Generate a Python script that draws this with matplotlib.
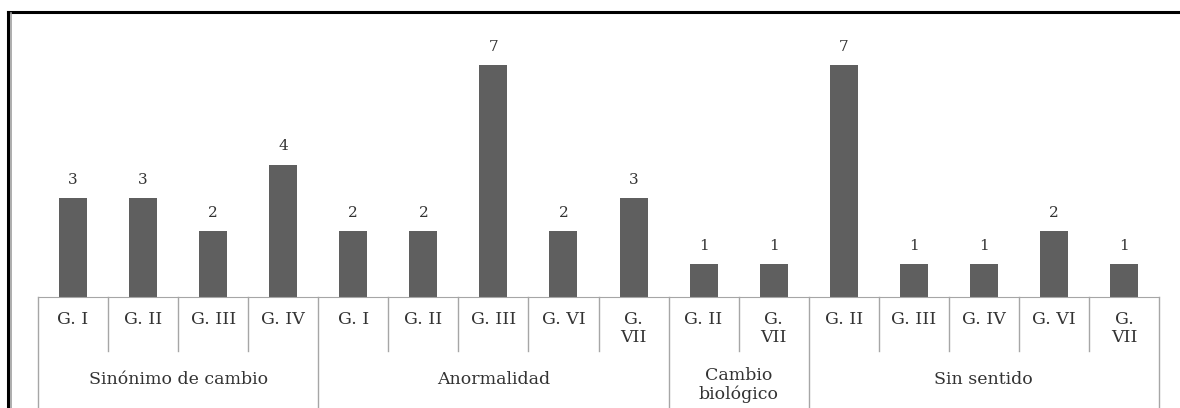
import matplotlib.pyplot as plt
from matplotlib.lines import Line2D
import matplotlib.transforms as mtransforms

plt.rcParams["font.family"] = ["DejaVu Serif"]

# --------------------DATA-------------------- #

groups = ["Sinónimo de cambio", "Anormalidad", "Cambio\nbiológico", "Sin sentido"]
groupSizes = [4, 5, 2, 5]
subLabels = ["G. I", "G. II", "G. III", "G. IV",
             "G. I", "G. II", "G. III", "G. VI", "G.\nVII",
             "G. II", "G.\nVII",
             "G. II", "G. III", "G. IV", "G. VI", "G.\nVII"]
values = [3, 3, 2, 4,
          2, 2, 7, 2, 3,
          1, 1,
          7, 1, 1, 2, 1]

# --------------------FIGURE-------------------- #

W, H = 1180, 408
axH = 265.0
fig = plt.figure(figsize=(W / 100, H / 100), dpi=100)
ax = fig.add_axes([38 / W, 1 - 297 / H, (1159 - 38) / W, axH / H])

n = len(values)
xs = list(range(n))
bars = ax.bar(xs, values, width=0.4, color="#5f5f5f")
ax.set_xlim(-0.5, n - 0.5)
ax.set_ylim(0, 8)

for x, v in zip(xs, values):
    ax.annotate(str(v), (x, v), xytext=(0, 8), textcoords="offset points",
                ha="center", va="bottom", fontsize=11, color="#333333")

for s in ["top", "left", "right"]:
    ax.spines[s].set_visible(False)
ax.spines["bottom"].set_color("#a6a6a6")
ax.set_xticks([])
ax.set_yticks([])

# multi-level category axis
trans = mtransforms.blended_transform_factory(ax.transData, ax.transAxes)
innerBottom = -54 / axH
outerBottom = -112 / axH
sepColor = "#a6a6a6"

boundaries = [0]
for size in groupSizes:
    boundaries.append(boundaries[-1] + size)

for i in range(n + 1):
    xline = i - 0.5
    yb = outerBottom if i in boundaries else innerBottom
    ax.plot([xline, xline], [0, yb], color=sepColor, lw=1, transform=trans, clip_on=False)

for x, lab in zip(xs, subLabels):
    ax.text(x, -14 / axH, lab, transform=trans, ha="center", va="top",
            fontsize=12.5, color="#333333", linespacing=1.1)

for gi, g in enumerate(groups):
    center = (boundaries[gi] + boundaries[gi + 1] - 1) / 2
    nLines = g.count("\n") + 1
    ax.text(center, -(83 + 5 * (nLines - 1)) / axH, g, transform=trans,
            ha="center", va="center", fontsize=12.5, color="#333333", linespacing=1.1)

# outer frame (only top and left edges visible)
fig.add_artist(Line2D([8 / W, 1], [1 - 11.5 / H, 1 - 11.5 / H], color="black", lw=2.2,
                      transform=fig.transFigure))
fig.add_artist(Line2D([8 / W, 8 / W], [1 - 11.5 / H, 0], color="black", lw=2.2,
                      transform=fig.transFigure))
fig.add_artist(Line2D([10.5 / W, 10.5 / W], [1 - 13 / H, 0], color="#a0a0a0", lw=1.2,
                      transform=fig.transFigure))

fig.savefig("out.png", dpi=100)
